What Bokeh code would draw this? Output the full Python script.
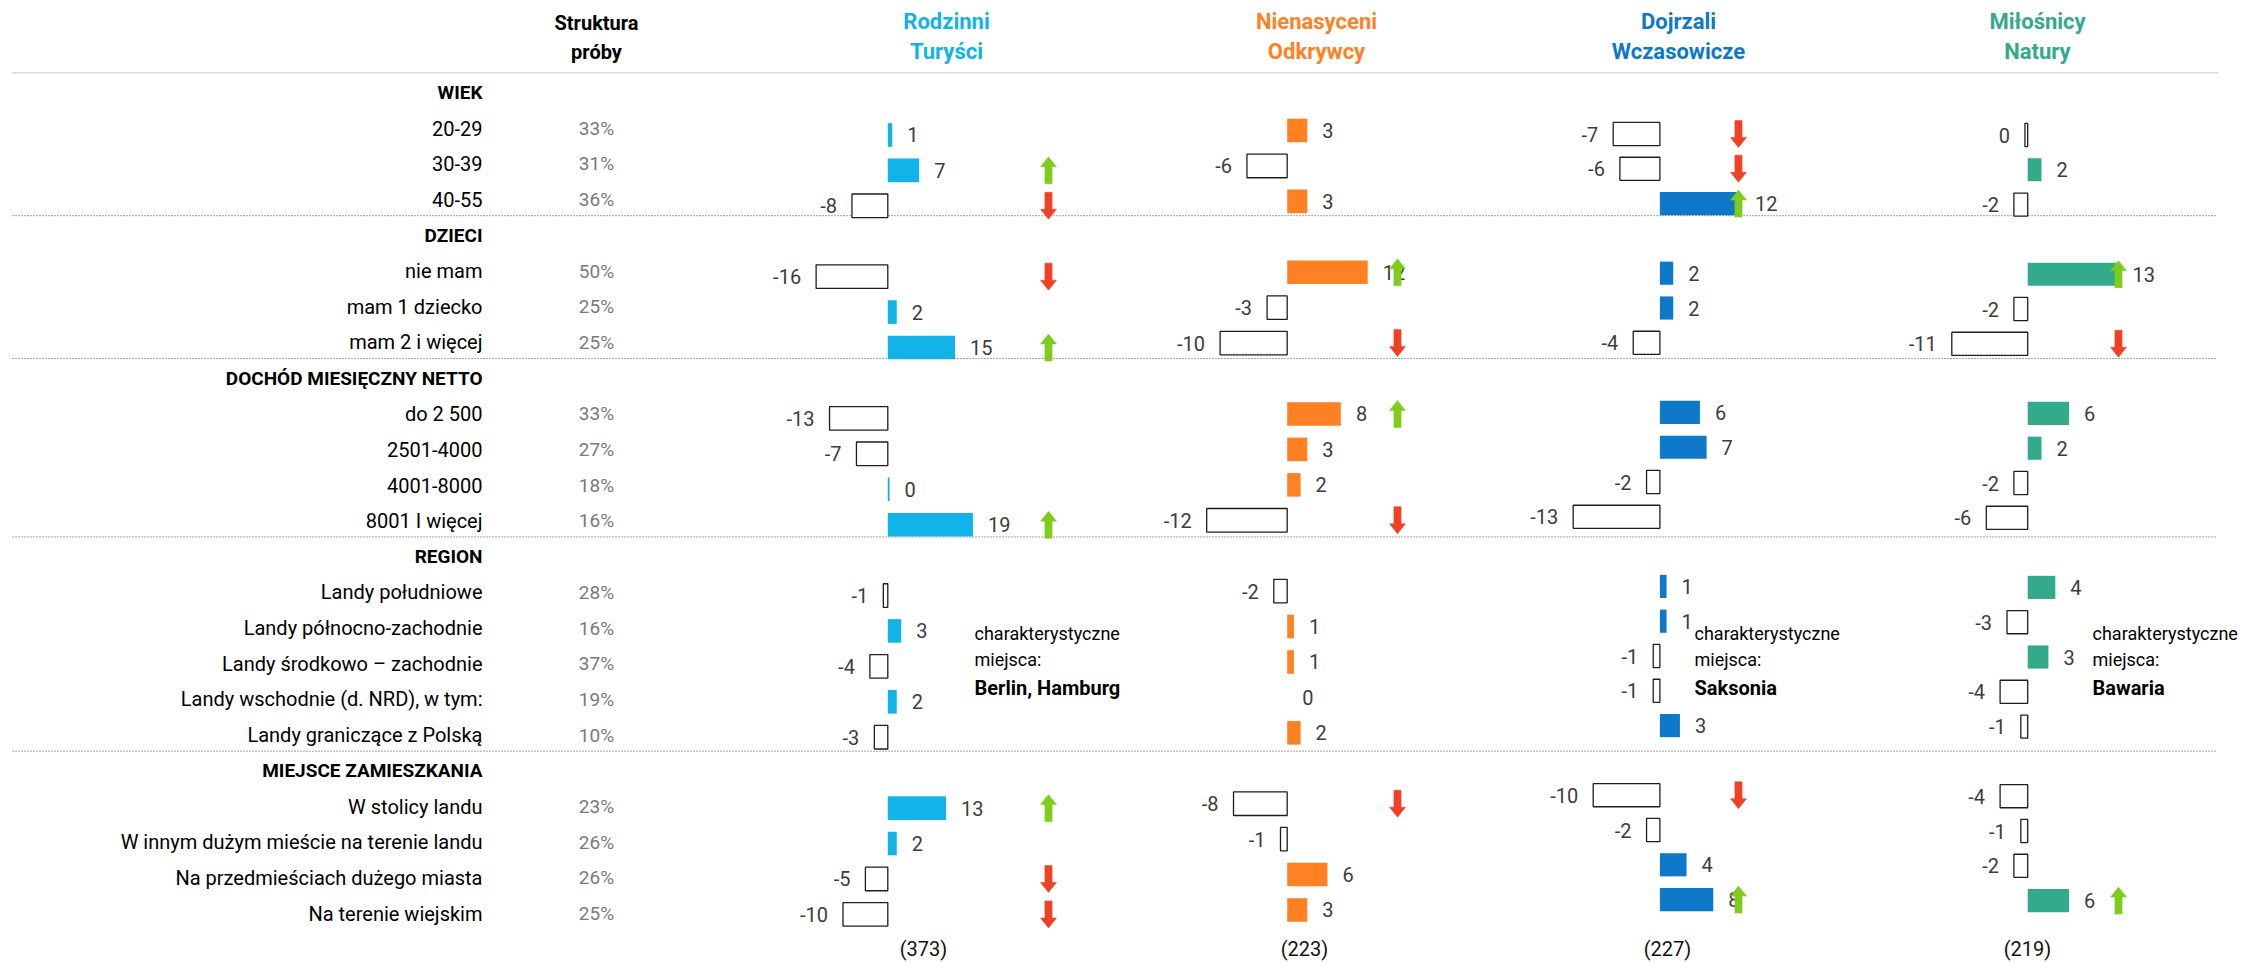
from bokeh.plotting import figure
from bokeh.models import Range1d, ColumnDataSource
from bokeh.core.properties import value
from bokeh.embed import file_html
from bokeh.resources import INLINE

# ---------------- data ----------------
sections = ["WIEK", "DZIECI", "DOCHÓD MIESIĘCZNY NETTO", "REGION", "MIEJSCE ZAMIESZKANIA"]
categories = [
    "20-29", "30-39", "40-55",
    "nie mam", "mam 1 dziecko", "mam 2 i więcej",
    "do 2 500", "2501-4000", "4001-8000", "8001 I więcej",
    "Landy południowe", "Landy północno-zachodnie", "Landy środkowo – zachodnie",
    "Landy wschodnie (d. NRD), w tym:", "Landy graniczące z Polską",
    "W stolicy landu", "W innym dużym mieście na terenie landu",
    "Na przedmieściach dużego miasta", "Na terenie wiejskim",
]
category_section = [0, 0, 0, 1, 1, 1, 2, 2, 2, 2, 3, 3, 3, 3, 3, 4, 4, 4, 4]
sample_share = [33, 31, 36, 50, 25, 25, 33, 27, 18, 16, 28, 16, 37, 19, 10, 23, 26, 26, 25]

segment_line1 = ["Rodzinni", "Nienasyceni", "Dojrzali", "Miłośnicy"]
segment_line2 = ["Turyści", "Odkrywcy", "Wczasowicze", "Natury"]
segment_n = [373, 223, 227, 219]
segment_colors = ["#12B3E8", "#FF8124", "#0E78C9", "#33AA8A"]
segment_places = ["Berlin, Hamburg", "", "Saksonia", "Bawaria"]

rodzinni = [1, 7, -8, -16, 2, 15, -13, -7, 0.4, 19, -1, 3, -4, 2, -3, 13, 2, -5, -10]
nienasyceni = [3, -6, 3, 12, -3, -10, 8, 3, 2, -12, -2, 1, 1, 0, 2, -8, -1, 6, 3]
dojrzali = [-7, -6, 12, 2, 2, -4, 6, 7, -2, -13, 1, 1, -1, -1, 3, -10, -2, 4, 8]
milosnicy = [-0.4, 2, -2, 13, -2, -11, 6, 2, -2, -6, 4, -3, 3, -4, -1, -4, -1, -2, 6]
segment_values = [rodzinni, nienasyceni, dojrzali, milosnicy]

rodzinni_arrows = ["", "up", "down", "down", "", "up", "", "", "", "up", "", "", "", "", "", "up", "", "down", "down"]
nienasyceni_arrows = ["", "", "", "up", "", "down", "up", "", "", "down", "", "", "", "", "", "down", "", "", ""]
dojrzali_arrows = ["down", "down", "up", "", "", "", "", "", "", "", "", "", "", "", "", "down", "", "", "up"]
milosnicy_arrows = ["", "", "", "up", "", "down", "", "", "", "", "", "", "", "", "", "", "", "", "up"]
segment_arrows = [rodzinni_arrows, nienasyceni_arrows, dojrzali_arrows, milosnicy_arrows]

# ---------------- layout ----------------
W, H = 2255, 962
Y0, DY = 92.0, 35.7          # main row grid (pixels)
FONT = "Roboto"
UP_COLOR, DOWN_COLOR = "#7FCC1C", "#EE4126"

# per column: baseline x, px per unit, row grid y0, row spacing, arrow x, header x, N x, note x
col_layout = [
    dict(x0=887.3, k=4.48, y0=99.0, dy=35.43, ax=1048, hx=946, nx=923, tx=974),
    dict(x0=1286.7, k=6.71, y0=94.6, dy=35.43, ax=1397, hx=1316, nx=1304, tx=None),
    dict(x0=1659.4, k=6.67, y0=98.7, dy=34.8, ax=1738, hx=1678, nx=1667, tx=1694),
    dict(x0=2027.2, k=6.9, y0=99.7, dy=34.8, ax=2118, hx=2037, nx=2027, tx=2092),
]


def ms(px):
    """pixel y -> main slot units"""
    return (px - Y0) / DY


# slots: section header rows interleaved with categories
row_slot = [i + s + 1 for i, s in enumerate(category_section)]
section_slot = [category_section.index(s) + s for s in range(len(sections))]
last_slot = [max(row_slot[i] for i, s in enumerate(category_section) if s == k) for k in range(len(sections))]

p = figure(width=W, height=H, x_range=Range1d(0, W), y_range=Range1d(ms(H), ms(0)),
           min_border=0, toolbar_location=None, output_backend="svg",
           x_axis_location=None, y_axis_location=None, outline_line_color=None,
           background_fill_color="white", border_fill_color="white")
p.grid.visible = False

# dotted separators
top_y = [section_slot[0] - 0.55]
sep_y = [last_slot[k] + 0.45 for k in range(len(sections) - 1)]
p.segment(x0=[12], x1=[2217], y0=top_y, y1=top_y,
          line_color="#8a8a8a", line_width=1, line_dash="1 1")
p.segment(x0=[12] * len(sep_y), x1=[2217] * len(sep_y), y0=sep_y, y1=sep_y,
          line_color="#4a4a4a", line_width=1, line_dash="1 2")

# left labels
p.text(x=[482] * len(categories), y=row_slot, text=categories, text_align="right",
       text_baseline="middle", text_font=value(FONT), text_font_size="20px", text_color="#000000")
p.text(x=[482] * len(sections), y=section_slot, text=sections, text_align="right",
       text_baseline="middle", text_font=value(FONT), text_font_size="19px",
       text_font_style="bold", text_color="#000000")
p.text(x=[596] * len(categories), y=row_slot, text=[f"{s}%" for s in sample_share],
       text_align="center", text_baseline="middle", text_font=value(FONT),
       text_font_size="19px", text_color="#7a7a7a")
p.text(x=[596, 596], y=[ms(22), ms(51)], text=["Struktura", "próby"], text_align="center",
       text_baseline="middle", text_font=value(FONT), text_font_size="20px",
       text_font_style="bold", text_color="#000000")

for ci, (vals, arrows, lay, color) in enumerate(zip(segment_values, segment_arrows, col_layout, segment_colors)):
    xr, yr = f"x{ci}", f"y{ci}"
    x0, k, y0, dy = lay["x0"], lay["k"], lay["y0"], lay["dy"]
    p.extra_x_ranges[xr] = Range1d(-x0 / k, (W - x0) / k)
    p.extra_y_ranges[yr] = Range1d((H - y0) / dy, -y0 / dy)

    src = ColumnDataSource(dict(
        y=row_slot, right=vals,
        fill=[color if v >= 0 else "white" for v in vals],
        la=[0.0 if v >= 0 else 1.0 for v in vals],
    ))
    p.hbar(y="y", left=0, right="right", height=0.665, fill_color="fill",
           line_color="#1e1e1e", line_alpha="la", line_width=1.3, source=src,
           x_range_name=xr, y_range_name=yr)

    pos = [(v, s) for v, s in zip(vals, row_slot) if v >= 0]
    neg = [(v, s) for v, s in zip(vals, row_slot) if v < 0]
    p.text(x=[v for v, _ in pos], y=[s for _, s in pos], text=[str(abs(int(round(v)))) for v, _ in pos],
           x_offset=15, text_align="left", text_baseline="middle", text_font=value(FONT),
           text_font_size="20px", text_color="#3c3c3c", x_range_name=xr, y_range_name=yr)
    p.text(x=[v for v, _ in neg], y=[s for _, s in neg],
           text=[(str(int(round(v))) if round(v) != 0 else "0") for v, _ in neg],
           x_offset=-15, text_align="right", text_baseline="middle", text_font=value(FONT),
           text_font_size="20px", text_color="#3c3c3c", x_range_name=xr, y_range_name=yr)

    # arrows (polygons around the arrow centre, in px for x and slot units for y)
    ax = lay["ax"]
    xs_list, ys_list, cols = [], [], []
    for a, s in zip(arrows, row_slot):
        if not a:
            continue
        sg = -1 if a == "up" else 1
        tip, neck, tail = s + sg * 13.5 / dy, s + sg * 3.5 / dy, s - sg * 13.5 / dy
        xs_list.append([ax, ax + 8, ax + 3.6, ax + 3.6, ax - 3.6, ax - 3.6, ax - 8])
        ys_list.append([tip, neck, neck, tail, tail, neck, neck])
        cols.append(UP_COLOR if a == "up" else DOWN_COLOR)
    p.patches(xs=xs_list, ys=ys_list, fill_color=cols, line_color=cols, line_width=0.5,
              y_range_name=yr)

    # column header, N
    p.text(x=[lay["hx"], lay["hx"]], y=[ms(21), ms(51)],
           text=[segment_line1[ci], segment_line2[ci]], text_align="center",
           text_baseline="middle", text_font=value(FONT), text_font_size="22px",
           text_font_style="bold", text_color=color)
    p.text(x=[lay["nx"]], y=[len(categories) + len(sections)], text=[f"({segment_n[ci]})"],
           text_align="center", text_baseline="middle", text_font=value(FONT),
           text_font_size="20px", text_color="#111111")

    if lay["tx"] is not None and segment_places[ci]:
        p.text(x=[lay["tx"], lay["tx"]], y=[ms(633), ms(659)],
               text=["charakterystyczne", "miejsca:"], text_align="left",
               text_baseline="middle", text_font=value(FONT), text_font_size="18px",
               text_color="#000000")
        p.text(x=[lay["tx"]], y=[ms(687)], text=[segment_places[ci]], text_align="left",
               text_baseline="middle", text_font=value(FONT), text_font_size="20px",
               text_font_style="bold", text_color="#000000")

open("out.html", "w").write(file_html(p, INLINE))
